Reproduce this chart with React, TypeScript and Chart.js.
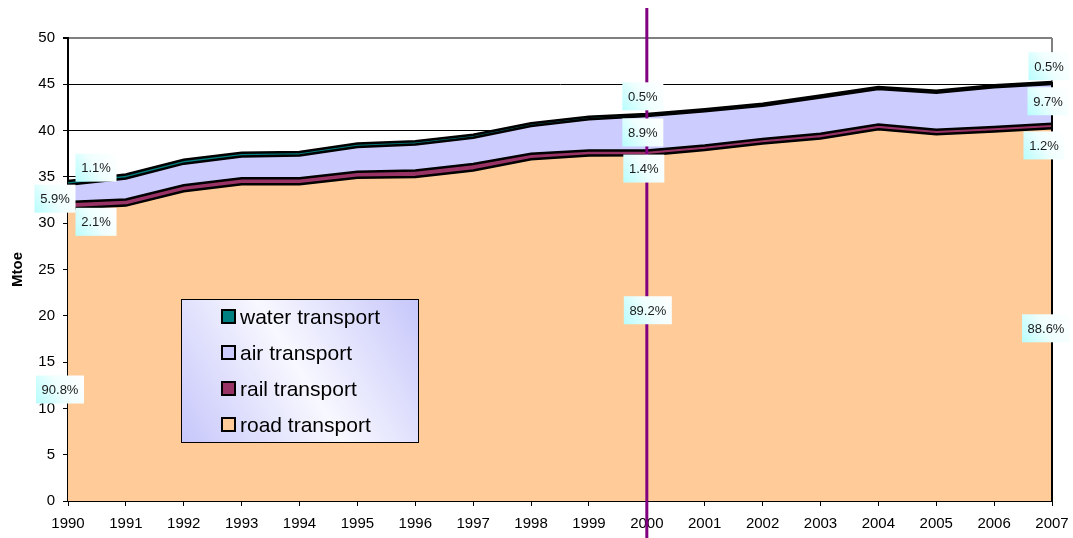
import React, { useEffect, useRef } from 'react';
import { Chart, registerables } from 'chart.js';

Chart.register(...registerables);

const years = ['1990', '1991', '1992', '1993', '1994', '1995', '1996', '1997', '1998', '1999', '2000', '2001', '2002', '2003', '2004', '2005', '2006', '2007'];
const road = [31.6, 31.9, 33.45, 34.2, 34.2, 34.9, 35.0, 35.7, 36.9, 37.3, 37.35, 37.9, 38.6, 39.15, 40.15, 39.6, 39.9, 40.25];
const rail = [0.7, 0.67, 0.65, 0.65, 0.65, 0.65, 0.7, 0.7, 0.6, 0.55, 0.5, 0.5, 0.5, 0.5, 0.5, 0.5, 0.5, 0.5];
const air = [1.85, 2.26, 2.33, 2.35, 2.45, 2.67, 2.8, 2.82, 3.0, 3.38, 3.73, 3.68, 3.58, 3.93, 3.83, 3.98, 4.28, 4.27];
const water = [0.4, 0.42, 0.42, 0.4, 0.4, 0.38, 0.35, 0.33, 0.3, 0.27, 0.22, 0.22, 0.22, 0.22, 0.22, 0.22, 0.22, 0.23];

const seriesNames = ['road transport', 'rail transport', 'air transport', 'water transport'];
const seriesColors = ['#FFCC99', '#993366', '#CCCCFF', '#008080'];

const yTicks = [0, 5, 10, 15, 20, 25, 30, 35, 40, 45, 50];
const markerYear = '2000';

// share labels: text, year, value (Mtoe height of label centre), horizontal nudge
const shareTexts = ['1.1%', '5.9%', '2.1%', '90.8%', '0.5%', '8.9%', '1.4%', '89.2%', '0.5%', '9.7%', '1.2%', '88.6%'];
const shareYears = ['1990', '1990', '1990', '1990', '2000', '2000', '2000', '2000', '2007', '2007', '2007', '2007'];
const shareValues = [36.0, 32.65, 30.15, 12.04, 43.7, 39.8, 35.9, 20.6, 46.96, 43.17, 38.4, 18.65];
const shareNudge = [28, -13, 28, -8, -4, -4, -3, 1, -3, -4, -8, -6];

const FONT = "'Liberation Sans', Arial, sans-serif";

export default function App() {
  const ref = useRef<HTMLCanvasElement>(null);

  useEffect(() => {
    const canvas = ref.current;
    if (!canvas) return;

    const framePlugin = {
      id: 'frame',
      beforeDatasetsDraw(chart: any) {
        const { ctx, chartArea } = chart;
        ctx.save();
        ctx.strokeStyle = '#808080';
        ctx.lineWidth = 2;
        ctx.beginPath();
        ctx.moveTo(chartArea.right, chartArea.top);
        ctx.lineTo(chartArea.right, chartArea.bottom);
        ctx.stroke();
        ctx.restore();
      },
    };

    const overlayPlugin = {
      id: 'overlay',
      afterDatasetsDraw(chart: any) {
        const { ctx, chartArea } = chart;
        const xs = chart.scales.x;
        const ys = chart.scales.y;
        ctx.save();

        // right edge outline of the stacked area
        const last = years.length - 1;
        const total = road[last] + rail[last] + air[last] + water[last];
        ctx.strokeStyle = '#000';
        ctx.lineWidth = 2;
        ctx.beginPath();
        ctx.moveTo(xs.getPixelForValue(last), ys.getPixelForValue(0));
        ctx.lineTo(xs.getPixelForValue(last), ys.getPixelForValue(total));
        ctx.stroke();

        // vertical marker
        const mx = xs.getPixelForValue(years.indexOf(markerYear));
        ctx.strokeStyle = '#800080';
        ctx.lineWidth = 3;
        ctx.beginPath();
        ctx.moveTo(mx, chartArea.top - 30);
        ctx.lineTo(mx, chart.height);
        ctx.stroke();

        // share labels
        ctx.font = `13px ${FONT}`;
        ctx.textAlign = 'center';
        ctx.textBaseline = 'middle';
        shareTexts.forEach((t, i) => {
          const cx = xs.getPixelForValue(years.indexOf(shareYears[i])) + shareNudge[i];
          const cy = ys.getPixelForValue(shareValues[i]);
          const w = Math.round(ctx.measureText(t).width + 11);
          const h = 28;
          const x0 = cx - w / 2;
          const y0 = cy - h / 2;
          const g = ctx.createLinearGradient(x0, y0 + h, x0 + w, y0);
          g.addColorStop(0, '#b8fdfd');
          g.addColorStop(0.5, '#effffe');
          g.addColorStop(1, '#ffffff');
          ctx.fillStyle = g;
          ctx.fillRect(x0, y0, w, h);
          ctx.fillStyle = '#1a1a1a';
          ctx.fillText(t, cx, cy + 1);
        });

        // legend
        const lx = chartArea.left + 113;
        const ly = chartArea.top + 261;
        const lw = 238;
        const lh = 144;
        const lg = ctx.createLinearGradient(lx, ly + lh, lx + lw, ly);
        lg.addColorStop(0, '#c6c6fb');
        lg.addColorStop(0.5, '#f8f8ff');
        lg.addColorStop(1, '#c6c6fb');
        ctx.fillStyle = lg;
        ctx.fillRect(lx, ly, lw, lh);
        ctx.strokeStyle = '#000';
        ctx.lineWidth = 1;
        ctx.strokeRect(lx + 0.5, ly + 0.5, lw - 1, lh - 1);
        ctx.font = `21px ${FONT}`;
        ctx.textAlign = 'left';
        ctx.textBaseline = 'middle';
        const order = [3, 2, 1, 0];
        order.forEach((si, row) => {
          const cy = ly + 18 + row * 36;
          ctx.fillStyle = seriesColors[si];
          ctx.fillRect(lx + 41, cy - 7, 13, 13);
          ctx.strokeStyle = '#000';
          ctx.lineWidth = 2;
          ctx.strokeRect(lx + 41, cy - 7, 13, 13);
          ctx.fillStyle = '#000';
          ctx.fillText(seriesNames[si], lx + 59, cy + 1);
        });

        ctx.restore();
      },
    };

    const series = [road, rail, air, water];
    const chart = new Chart(canvas, {
      type: 'line',
      data: {
        labels: years,
        datasets: series.map((d, i) => ({
          label: seriesNames[i],
          data: d,
          backgroundColor: seriesColors[i],
          borderColor: '#000',
          borderWidth: 2.5,
          pointRadius: 0,
          tension: 0,
          fill: i === 0 ? 'origin' : '-1',
        })),
      },
      options: {
        responsive: false,
        devicePixelRatio: 1,
        animation: false,
        events: [],
        layout: { padding: { top: 38, right: 0, left: 0, bottom: 0 } },
        plugins: {
          legend: { display: false },
          tooltip: { enabled: false },
        },
        scales: {
          x: {
            offset: false,
            grid: { display: true, drawOnChartArea: false, drawTicks: true, tickLength: 5, color: '#000', lineWidth: 1 },
            border: { color: '#000', width: 2 },
            ticks: { color: '#000', font: { family: FONT, size: 15 }, padding: 9, maxRotation: 0, autoSkip: false },
            afterFit: (s: any) => { s.height = 37; s.paddingRight = 21; s.paddingLeft = 0; },
          },
          y: {
            stacked: true,
            min: 0,
            max: 50,
            afterBuildTicks: (s: any) => { s.ticks = yTicks.map((v) => ({ value: v })); },
            grid: {
              color: (c: any) => (c.tick && c.tick.value === 50 ? '#808080' : '#000'),
              lineWidth: (c: any) => (c.tick && c.tick.value === 50 ? 2 : 1),
              tickColor: '#000',
              tickLength: 5,
            },
            border: { color: '#000', width: 2 },
            ticks: { color: '#000', font: { family: FONT, size: 15 }, padding: 8 },
            title: { display: true, text: 'Mtoe', color: '#000', font: { family: FONT, size: 15, weight: 'bold' }, padding: { top: 9, bottom: 0 } },
            afterFit: (s: any) => { s.width = 68; },
          },
        },
      },
      plugins: [framePlugin, overlayPlugin],
    } as any);

    return () => chart.destroy();
  }, []);

  return (
    <div style={{ position: 'fixed', left: 0, top: 0, width: 1073, height: 538, background: '#fff' }}>
      <canvas ref={ref} width={1073} height={538} style={{ display: 'block' }} />
    </div>
  );
}
